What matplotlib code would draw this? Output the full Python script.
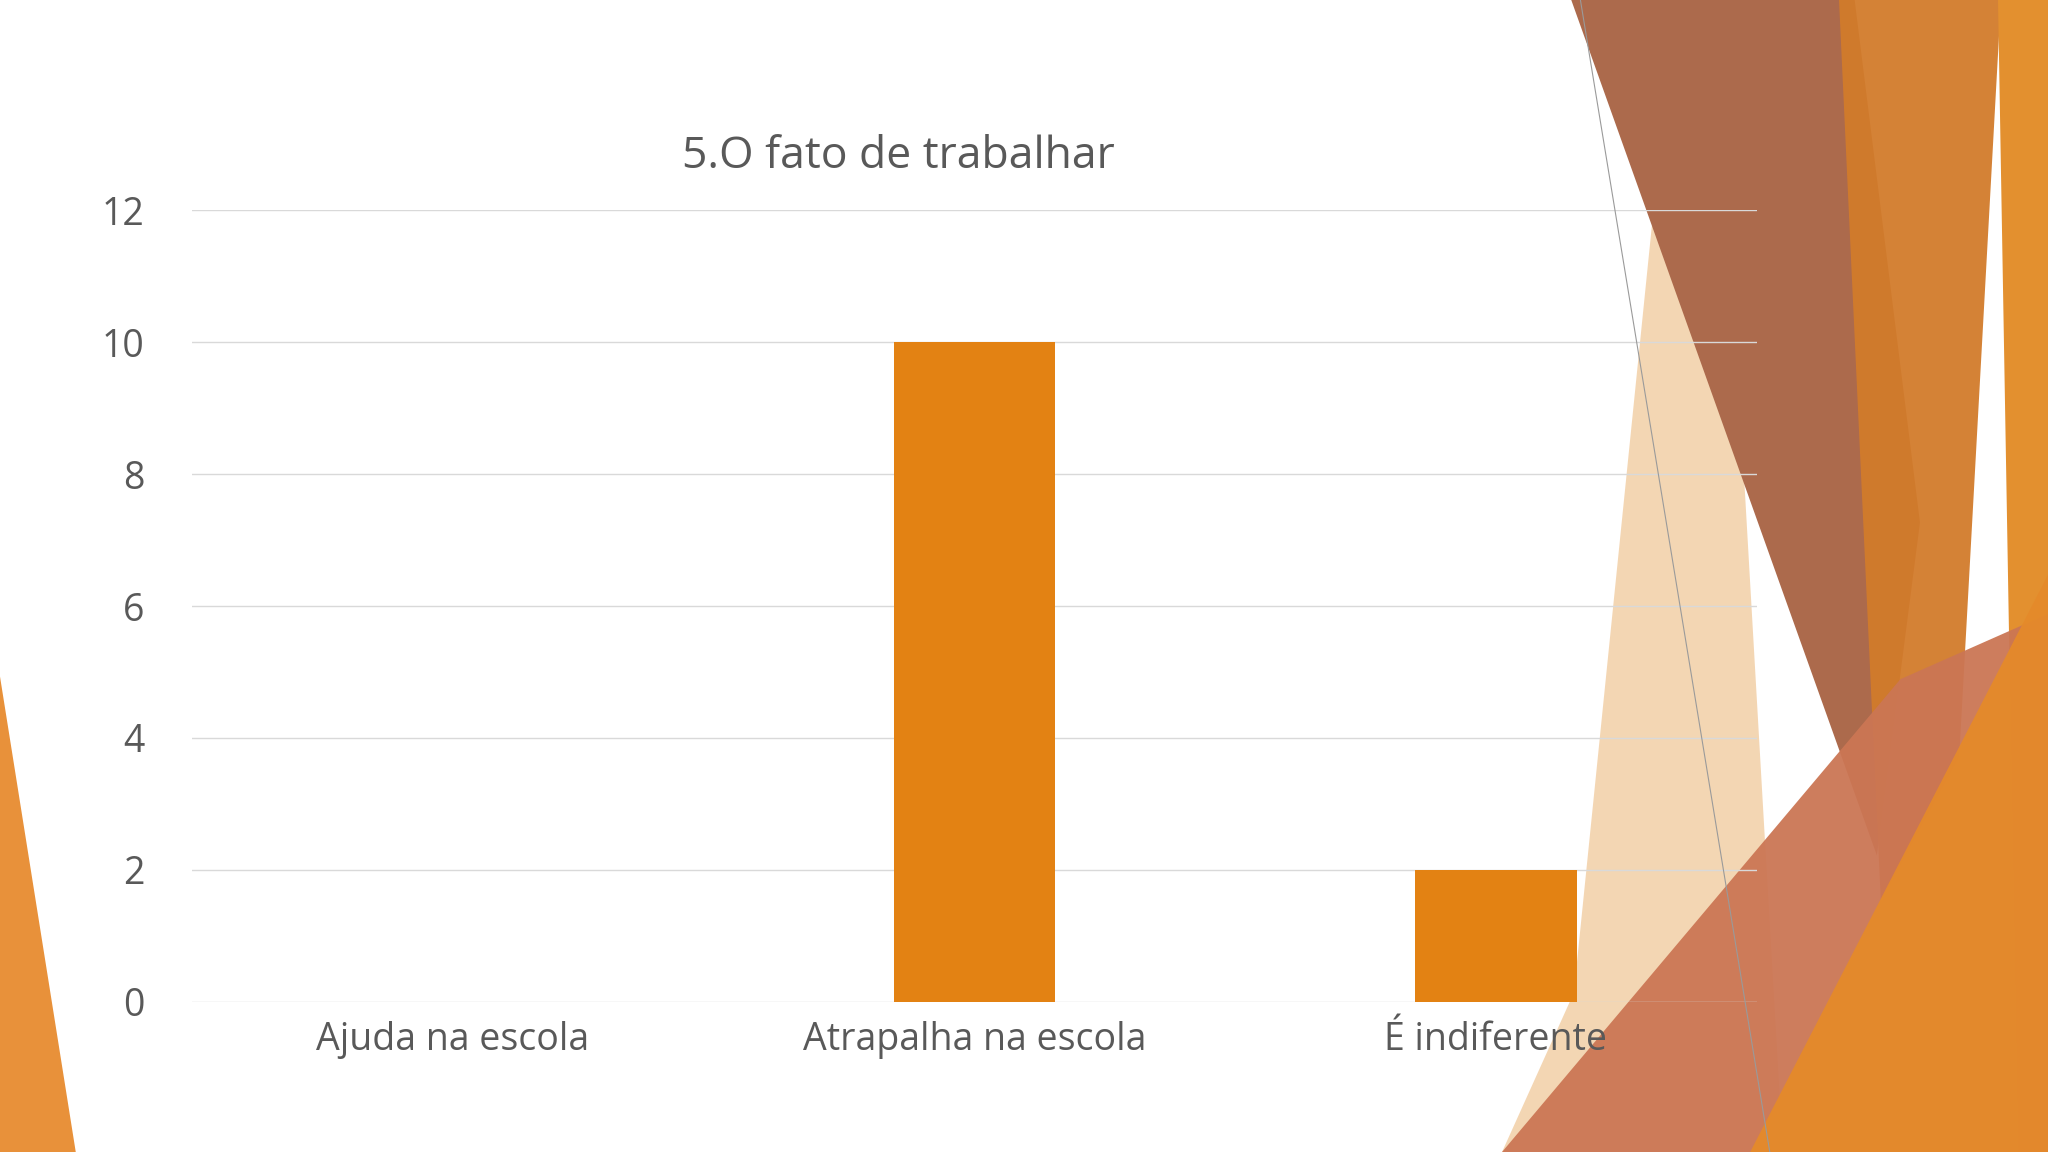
import matplotlib
matplotlib.use("Agg")
import matplotlib.pyplot as plt
from matplotlib.patches import Polygon

categories = ["Ajuda na escola", "Atrapalha na escola", "É indiferente"]
values = [0, 10, 2]
yticks = [0, 2, 4, 6, 8, 10, 12]

INK = "#595959"
W, H = 1568, 882

fig = plt.figure(figsize=(20.48, 11.52), dpi=100)
fig.patch.set_facecolor("white")


def deco(points, color, alpha=1.0, z=0):
    pts = [(x / W, 1 - y / H) for x, y in points]
    fig.add_artist(Polygon(pts, closed=True, transform=fig.transFigure,
                           facecolor=color, edgecolor="none", alpha=alpha, zorder=z))


# background decoration (slide theme)
deco([(0, 518), (58, 882), (0, 882)], "#E8913A")
deco([(1265, 170), (1335, 360), (1365, 882), (1150, 882), (1205, 760)], "#F2CFA6", 0.85)
deco([(1203, 0), (1420, 0), (1470, 400), (1437, 655)], "#AC6A4C")
deco([(1408, 0), (1532, 0), (1500, 580), (1440, 690)], "#D27B2B", 0.95)
deco([(1530, 0), (1568, 0), (1568, 882), (1545, 882)], "#E3902F")
deco([(1150, 882), (1455, 520), (1568, 470), (1568, 882)], "#CB7654", 0.95)
deco([(1340, 882), (1568, 440), (1568, 882)], "#E58A2A", 0.95)
fig.add_artist(plt.Line2D([1210 / W, 1355 / W], [1, 0], transform=fig.transFigure,
                          color="#9A9A9A", linewidth=0.8))

ax = fig.add_axes([147 / W, 1 - 767 / H, 1198 / W, (767 - 161) / H])
ax.patch.set_alpha(0)
x = range(len(categories))
ax.bar(x, values, width=0.31, color="#E38213", zorder=3)
ax.set_xlim(-0.5, 2.5)
ax.set_ylim(0, 12)
ax.set_yticks(yticks)
ax.set_yticklabels([str(v) for v in yticks])
ax.set_xticks(list(x))
ax.set_xticklabels(categories)
ax.grid(axis="y", color="#D9D9D9", linewidth=1.0, zorder=0)
for s in ax.spines.values():
    s.set_visible(False)
ax.tick_params(length=0, labelsize=27, colors=INK, pad=14)
ax.tick_params(axis="y", pad=34)
for lab in ax.get_xticklabels() + ax.get_yticklabels():
    lab.set_family("Open Sans")

fig.text(688 / W, 1 - 120 / H, "5.O fato de trabalhar", ha="center", va="center",
         fontsize=32, color=INK, family="Open Sans")

fig.savefig("out.png", dpi=100)
